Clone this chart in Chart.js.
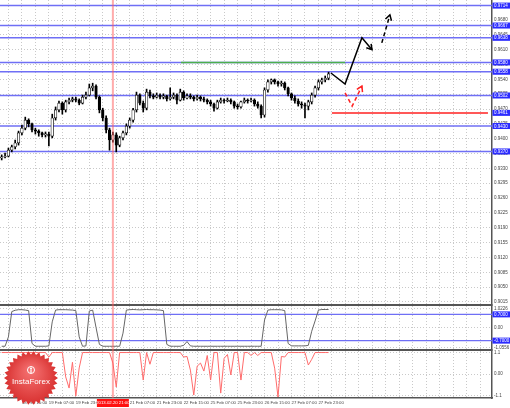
<!DOCTYPE html>
<html>
<head>
<meta charset="utf-8">
<script src="https://cdn.jsdelivr.net/npm/chart.js@4.4.1/dist/chart.umd.min.js"></script>
<style>
    html, body { margin: 0; padding: 0; background: #fff; }
</style>
</head>
<body>
<canvas id="chart" width="510" height="408"></canvas>
<script>
// 2h bars
var openP = [0.9355, 0.9357, 0.9359, 0.9373, 0.9381, 0.9390, 0.9414, 0.9425, 0.9444, 0.9435,
    0.9421, 0.9418, 0.9414, 0.9409, 0.9411, 0.9406, 0.9449, 0.9468, 0.9484, 0.9468,
    0.9487, 0.9491, 0.9494, 0.9491, 0.9484, 0.9498, 0.9503, 0.9520, 0.9524, 0.9498,
    0.9468, 0.9449, 0.9421, 0.9397, 0.9409, 0.9385, 0.9402, 0.9414, 0.9430, 0.9444,
    0.9468, 0.9503, 0.9484, 0.9472, 0.9510, 0.9501, 0.9498, 0.9503, 0.9498, 0.9501,
    0.9494, 0.9498, 0.9503, 0.9491, 0.9510, 0.9496, 0.9501, 0.9498, 0.9494, 0.9498,
    0.9494, 0.9491, 0.9487, 0.9482, 0.9472, 0.9487, 0.9491, 0.9489, 0.9491, 0.9487,
    0.9477, 0.9475, 0.9487, 0.9491, 0.9489, 0.9491, 0.9482, 0.9477, 0.9456, 0.9515,
    0.9534, 0.9539, 0.9534, 0.9529, 0.9531, 0.9520, 0.9506, 0.9496, 0.9489, 0.9482,
    0.9480, 0.9477, 0.9487, 0.9503, 0.9520, 0.9534, 0.9539, 0.9543];
var highP = [0.9362, 0.9366, 0.9378, 0.9385, 0.9397, 0.9418, 0.9432, 0.9451, 0.9447, 0.9437,
    0.9425, 0.9421, 0.9416, 0.9416, 0.9416, 0.9458, 0.9475, 0.9489, 0.9487, 0.9491,
    0.9496, 0.9498, 0.9498, 0.9494, 0.9503, 0.9510, 0.9529, 0.9531, 0.9527, 0.9501,
    0.9472, 0.9454, 0.9425, 0.9416, 0.9414, 0.9406, 0.9418, 0.9435, 0.9449, 0.9472,
    0.9510, 0.9506, 0.9489, 0.9517, 0.9515, 0.9506, 0.9508, 0.9506, 0.9506, 0.9503,
    0.9520, 0.9508, 0.9506, 0.9517, 0.9513, 0.9506, 0.9506, 0.9501, 0.9503, 0.9501,
    0.9498, 0.9494, 0.9491, 0.9484, 0.9491, 0.9496, 0.9494, 0.9496, 0.9494, 0.9489,
    0.9482, 0.9489, 0.9496, 0.9494, 0.9496, 0.9494, 0.9487, 0.9480, 0.9520, 0.9539,
    0.9541, 0.9541, 0.9536, 0.9536, 0.9534, 0.9522, 0.9508, 0.9501, 0.9494, 0.9487,
    0.9484, 0.9491, 0.9508, 0.9524, 0.9539, 0.9543, 0.9548, 0.9557];
var lowP = [0.9350, 0.9355, 0.9357, 0.9369, 0.9376, 0.9385, 0.9409, 0.9421, 0.9428, 0.9416,
    0.9411, 0.9406, 0.9404, 0.9404, 0.9383, 0.9402, 0.9444, 0.9463, 0.9458, 0.9463,
    0.9482, 0.9487, 0.9487, 0.9480, 0.9482, 0.9494, 0.9501, 0.9513, 0.9494, 0.9461,
    0.9442, 0.9414, 0.9373, 0.9392, 0.9369, 0.9381, 0.9397, 0.9409, 0.9425, 0.9439,
    0.9463, 0.9480, 0.9463, 0.9468, 0.9496, 0.9494, 0.9496, 0.9494, 0.9494, 0.9489,
    0.9491, 0.9494, 0.9482, 0.9489, 0.9491, 0.9494, 0.9494, 0.9489, 0.9491, 0.9489,
    0.9487, 0.9482, 0.9477, 0.9465, 0.9470, 0.9484, 0.9484, 0.9487, 0.9482, 0.9472,
    0.9470, 0.9472, 0.9484, 0.9484, 0.9487, 0.9477, 0.9472, 0.9449, 0.9451, 0.9510,
    0.9529, 0.9529, 0.9524, 0.9524, 0.9515, 0.9501, 0.9491, 0.9484, 0.9477, 0.9472,
    0.9449, 0.9468, 0.9482, 0.9498, 0.9515, 0.9529, 0.9534, 0.9539];
var closeP = [0.9357, 0.9359, 0.9373, 0.9381, 0.9390, 0.9414, 0.9425, 0.9444, 0.9435, 0.9421,
    0.9418, 0.9414, 0.9409, 0.9411, 0.9406, 0.9449, 0.9468, 0.9484, 0.9468, 0.9487,
    0.9491, 0.9494, 0.9491, 0.9484, 0.9498, 0.9503, 0.9520, 0.9524, 0.9498, 0.9468,
    0.9449, 0.9421, 0.9397, 0.9409, 0.9385, 0.9402, 0.9414, 0.9430, 0.9444, 0.9468,
    0.9503, 0.9484, 0.9472, 0.9510, 0.9501, 0.9498, 0.9503, 0.9498, 0.9501, 0.9494,
    0.9498, 0.9503, 0.9491, 0.9510, 0.9496, 0.9501, 0.9498, 0.9494, 0.9498, 0.9494,
    0.9491, 0.9487, 0.9482, 0.9472, 0.9487, 0.9491, 0.9489, 0.9491, 0.9487, 0.9477,
    0.9475, 0.9487, 0.9491, 0.9489, 0.9491, 0.9482, 0.9477, 0.9456, 0.9515, 0.9534,
    0.9539, 0.9534, 0.9529, 0.9531, 0.9520, 0.9506, 0.9496, 0.9489, 0.9482, 0.9480,
    0.9477, 0.9487, 0.9503, 0.9520, 0.9534, 0.9539, 0.9543, 0.9553];

// indicator panes
var osc1 = [-1.0, -1.0, -0.5, 0.85, 0.92, 0.95, 0.95, 0.93, 0.9, -0.85,
    -1.0, -1.0, -1.0, -1.0, -0.98, 0.3, 0.93, 0.95, 0.95, 0.95,
    0.94, 0.93, 0.9, -0.5, -1.0, -0.98, 0.88, 0.93, 0.0, -0.9,
    -1.0, -1.0, -1.0, -1.0, -1.0, -1.0, -0.3, 0.93, 0.95, 0.96,
    0.95, 0.94, 0.95, 0.96, 0.95, 0.95, 0.94, 0.93, 0.9, -0.9,
    -1.0, -1.0, -1.0, -1.0, -0.95, -0.75, -0.98, -1.0, -1.0, -1.0,
    -1.0, -1.0, -1.0, -1.0, -1.0, -1.0, -1.0, -1.0, -1.0, -1.0,
    -1.0, -1.0, -1.0, -1.0, -1.0, -1.0, -1.0, -1.0, 0.4, 0.93,
    0.95, 0.95, 0.95, 0.94, 0.9, -0.85, -0.98, -0.98, -0.98, -0.98,
    -0.98, -0.95, -0.2, 0.35, 0.93, 0.96, 0.96, 0.96];
var osc2 = [1.1, 1.1, 1.1, 1.1, 1.1, 1.1, 1.1, 1.1, 1.1, 1.1,
    1.1, 1.1, 1.1, 1.1, 0.87, 1.1, 1.1, 1.1, 1.1, -0.15,
    -0.72, 0.6, -1.13, 0.31, 1.1, 1.1, 1.1, 1.1, 1.1, 1.1,
    1.1, 1.1, 1.1, 0.56, -0.67, 1.1, 1.1, 1.1, 1.1, 1.1,
    1.1, 1.1, -0.31, 1.1, 0.5, 1.1, 1.1, 1.1, 1.1, 1.1,
    1.1, 1.1, 1.1, 1.1, 0.87, 0.9, 0.2, -1.08, 0.4, 0.56,
    0.15, 0.95, -0.31, 1.1, 1.1, -0.98, 0.8, 1.0, -0.05, 1.1,
    1.1, -0.31, 1.1, 1.1, 0.95, 1.1, 0.95, 1.1, 1.1, 1.1,
    1.1, 0.3, -1.18, 0.9, 0.87, 1.1, 1.1, 1.1, 1.1, 1.1,
    1.1, 0.46, 0.75, 1.1, 1.1, 1.1, 1.1, 1.1];

// axis texts
var tickTimes = ['18 Feb 15:00', '19 Feb 07:00', '19 Feb 23:00', '20 Feb 15:00', '21 Feb 07:00',
    '21 Feb 23:00', '22 Feb 15:00', '25 Feb 07:00', '25 Feb 23:00', '26 Feb 15:00',
    '27 Feb 07:00', '27 Feb 23:00'];
var priceTicks = [0.9680, 0.9645, 0.9610, 0.9575, 0.9540, 0.9505, 0.9470, 0.9435, 0.9400, 0.9365,
    0.9330, 0.9295, 0.9260, 0.9225, 0.9190, 0.9155, 0.9120, 0.9085, 0.9050, 0.9015];
var osc1Ticks = [1.0226, 0, -1.0556];
var osc2Ticks = [1.1, 0, -1.1];

// levels and forecast
var blueLevels = [0.9714, 0.9667, 0.9638, 0.9580, 0.9558, 0.9502, 0.9430, 0.9370];
var greenLevel = 0.9580;
var greenSpan = [53.2, 101.9];
var redLevel = 0.9461;
var redSpan = [98, 144.3];
var osc1Levels = [0.7, -0.7];
var fcMainX = [97.7, 101.9, 106.9, 109.9];
var fcMainY = [0.9555, 0.9529, 0.9638, 0.9610];
var fcAltX = [112.8, 115.2];
var fcAltY = [0.9626, 0.9692];
var fcRedX = [101.9, 104.0, 106.9];
var fcRedY = [0.9508, 0.9477, 0.9524];
var crossIndex = 33;
var crossText = '2013.02.20 21:00';

var SLOTS = 146;
var FONT = 'Liberation Sans';

var labels = [];
for (var i = 0; i < SLOTS; i++) {
    var k = (i - 6) / 8;
    labels.push(k >= 0 && k % 1 === 0 && k < tickTimes.length ? tickTimes[k] : '');
}

function pts(xs, ys) {
    return xs.map(function (x, j) { return {x: x, y: ys[j]}; });
}

function levelLine(v, from, to, color, width, order) {
    return {
        type: 'line', xAxisID: 'xl', yAxisID: 'y', order: order,
        data: [{x: from, y: v}, {x: to, y: v}],
        borderColor: color, borderWidth: width, pointRadius: 0
    };
}

// bull bodies hollow, bear bodies filled
var bodyFill = openP.map(function (o, j) { return closeP[j] > o ? '#fff' : '#000'; });

var datasets = [
    {
        type: 'bar', order: 0, grouped: false,
        data: lowP.map(function (l, j) { return [l, highP[j]]; }),
        backgroundColor: '#000', barThickness: 1
    },
    {
        type: 'bar', order: -0.5, grouped: false,
        data: openP.map(function (o, j) { return [o, closeP[j]]; }),
        backgroundColor: bodyFill, borderColor: '#000', borderWidth: 0.7, borderSkipped: false,
        barThickness: 2.6, minBarLength: 1
    },
    {
        type: 'line', yAxisID: 'y1', order: 1, data: osc1,
        borderColor: '#666', borderWidth: 1, pointRadius: 0
    },
    {
        type: 'line', yAxisID: 'y2', order: 1, data: osc2,
        borderColor: '#ff6b6b', borderWidth: 1, pointRadius: 0
    }
];
blueLevels.forEach(function (v) {
    datasets.push(levelLine(v, -0.5, SLOTS - 0.5, '#6f6ff5', 1.5, 2));
});
datasets.push(levelLine(greenLevel, greenSpan[0], greenSpan[1], '#4caf4c', 1.5, 1.5));
datasets.push(levelLine(redLevel, redSpan[0], redSpan[1], '#ff2020', 1.5, 1.5));
osc1Levels.forEach(function (v) {
    var d = levelLine(v, -0.5, SLOTS - 0.5, '#6f6ff5', 1.2, 2);
    d.yAxisID = 'y1';
    datasets.push(d);
});
datasets.push({
    type: 'line', xAxisID: 'xl', yAxisID: 'y', order: -1, arrow: true,
    data: pts(fcMainX, fcMainY), borderColor: '#000', borderWidth: 1.5, pointRadius: 0
});
datasets.push({
    type: 'line', xAxisID: 'xl', yAxisID: 'y', order: -1, arrow: true,
    data: pts(fcAltX, fcAltY), borderColor: '#000', borderWidth: 1.5, borderDash: [4, 3], pointRadius: 0
});
datasets.push({
    type: 'line', xAxisID: 'xl', yAxisID: 'y', order: -1, arrow: true,
    data: pts(fcRedX, fcRedY), borderColor: '#ff2020', borderWidth: 1.5, borderDash: [4, 3], pointRadius: 0
});

function fixY(width) {
    return function (s) {
        s.width = width;
        s.paddingTop = 0;
        s.paddingBottom = 0;
    };
}

function customTicks(values) {
    return function (s) {
        s.ticks = values.map(function (v) { return {value: v}; });
    };
}

var gridDots = {color: '#c9c9c9', lineWidth: 1, drawTicks: false};
var tickFont = {family: FONT, size: 4.5};

function tag(c, x, y, w, h, fill, text) {
    c.fillStyle = fill;
    c.fillRect(x, y - h / 2, w, h);
    c.fillStyle = '#fff';
    c.textBaseline = 'middle';
    c.fillText(text, x + 1.5, y + 0.3);
}

function drawLogo(c, x, y, r) {
    var n = 30;
    c.beginPath();
    for (var j = 0; j < n * 2; j++) {
        var rr = j % 2 ? r * 0.87 : r;
        var t = Math.PI * j / n;
        c.lineTo(x + rr * Math.cos(t), y + rr * Math.sin(t));
    }
    c.closePath();
    var g = c.createRadialGradient(x, y - r * 0.3, 2, x, y, r);
    g.addColorStop(0, '#f47070');
    g.addColorStop(1, '#d8302f');
    c.fillStyle = g;
    c.fill();
    // small emblem
    c.strokeStyle = '#fff';
    c.fillStyle = '#fff';
    c.lineWidth = 1;
    c.beginPath();
    c.arc(x, y - 8, 3.5, 0, Math.PI * 2);
    c.stroke();
    c.beginPath();
    c.arc(x, y - 9.5, 1, 0, Math.PI * 2);
    c.fill();
    c.fillRect(x - 0.6, y - 8.5, 1.2, 3.5);
    c.font = '8px ' + FONT;
    c.textAlign = 'center';
    c.textBaseline = 'middle';
    c.fillText('InstaForex', x, y + 4);
}

var decor = {
    id: 'decor',
    afterDatasetsDraw: function (chart) {
        var c = chart.ctx, a = chart.chartArea, s = chart.scales;
        c.save();
        c.strokeStyle = '#555';
        c.lineWidth = 2;
        [s.y1.top, s.y1.bottom].forEach(function (yy) {
            c.beginPath();
            c.moveTo(a.left, yy);
            c.lineTo(a.right, yy);
            c.stroke();
        });
        var cx = s.x.getPixelForValue(crossIndex);
        c.strokeStyle = 'rgba(255,90,90,0.5)';
        c.lineWidth = 2;
        c.beginPath();
        c.moveTo(cx, a.top);
        c.lineTo(cx, a.bottom);
        c.stroke();
        // arrow heads on forecast paths
        chart.data.datasets.forEach(function (ds, di) {
            if (!ds.arrow) return;
            var p = chart.getDatasetMeta(di).data;
            var p1 = p[p.length - 2], p2 = p[p.length - 1];
            var ang = Math.atan2(p2.y - p1.y, p2.x - p1.x);
            c.strokeStyle = ds.borderColor;
            c.lineWidth = 1.5;
            c.beginPath();
            c.moveTo(p2.x - 6 * Math.cos(ang - 0.55), p2.y - 6 * Math.sin(ang - 0.55));
            c.lineTo(p2.x, p2.y);
            c.lineTo(p2.x - 6 * Math.cos(ang + 0.55), p2.y - 6 * Math.sin(ang + 0.55));
            c.stroke();
        });
        c.restore();
    },
    afterDraw: function (chart) {
        var c = chart.ctx, a = chart.chartArea, s = chart.scales;
        c.save();
        c.font = '4.5px ' + FONT;
        c.textAlign = 'left';
        blueLevels.concat([redLevel]).forEach(function (v) {
            tag(c, a.right + 0.5, s.y.getPixelForValue(v), 18, 6, '#2b2bff', v.toFixed(4));
        });
        osc1Levels.forEach(function (v) {
            tag(c, a.right + 0.5, s.y1.getPixelForValue(v), 18, 6, '#2b2bff', v.toFixed(4));
        });
        var cx = s.x.getPixelForValue(crossIndex);
        c.fillStyle = '#ff1010';
        c.fillRect(cx - 16, a.bottom + 1, 32, 8);
        c.fillStyle = '#fff';
        c.font = '4.3px ' + FONT;
        c.textAlign = 'center';
        c.textBaseline = 'middle';
        c.fillText(crossText, cx, a.bottom + 5);
        drawLogo(c, 31, 378, 27);
        c.restore();
    }
};

new Chart(document.getElementById('chart'), {
    type: 'bar',
    data: {labels: labels, datasets: datasets},
    options: {
        responsive: false,
        devicePixelRatio: 1,
        animation: false,
        events: [],
        layout: {padding: 0},
        plugins: {legend: {display: false}, tooltip: {enabled: false}},
        scales: {
            x: {
                type: 'category', offset: true,
                grid: {
                    offset: false, drawTicks: false, lineWidth: 1,
                    color: function (ctx) { return ctx.index % 4 === 2 ? '#c9c9c9' : 'rgba(0,0,0,0)'; }
                },
                border: {display: true, color: '#555', width: 1.5, dash: [1, 2]},
                ticks: {
                    autoSkip: false, maxRotation: 0, minRotation: 0, align: 'start', padding: 2.5,
                    color: '#444', font: {family: FONT, size: 4.3}
                },
                afterFit: function (s) { s.height = 10; s.paddingLeft = 0; s.paddingRight = 0; }
            },
            // overlay axis: same span as the bar slots, but not rounded to whole bars
            xl: {
                type: 'linear', position: 'bottom', min: -0.5, max: SLOTS - 0.5,
                offset: false, bounds: 'data', grace: 0, beginAtZero: false,
                grid: {display: false, drawTicks: false, offset: false},
                border: {display: false},
                ticks: {display: false},
                afterFit: function (s) { s.height = 0; s.paddingLeft = 0; s.paddingRight = 0; }
            },
            y: {
                position: 'right', stack: 'panes', stackWeight: 305,
                min: 0.90079, max: 0.97272,
                grid: gridDots,
                border: {display: true, color: '#555', width: 1.5, dash: [1, 2]},
                ticks: {autoSkip: false, padding: 2, color: '#444', font: tickFont,
                    callback: function (v) { return v.toFixed(4); }},
                afterBuildTicks: customTicks(priceTicks),
                afterFit: fixY(18)
            },
            y1: {
                position: 'right', stack: 'panes', stackWeight: 45,
                min: -1.2, max: 1.2,
                grid: gridDots,
                border: {display: true, color: '#555', width: 1.5, dash: [1, 2]},
                ticks: {autoSkip: false, padding: 2, color: '#444', font: tickFont,
                    callback: function (v) { return v === 0 ? '0.00' : v.toFixed(4); }},
                afterBuildTicks: customTicks(osc1Ticks),
                afterFit: fixY(18)
            },
            y2: {
                position: 'right', stack: 'panes', stackWeight: 48,
                min: -1.23, max: 1.23,
                grid: gridDots,
                border: {display: true, color: '#555', width: 1.5, dash: [1, 2]},
                ticks: {autoSkip: false, padding: 2, color: '#444', font: tickFont,
                    callback: function (v) { return v === 0 ? '0.00' : String(v); }},
                afterBuildTicks: customTicks(osc2Ticks),
                afterFit: fixY(18)
            }
        }
    },
    plugins: [decor]
});
</script>
</body>
</html>
